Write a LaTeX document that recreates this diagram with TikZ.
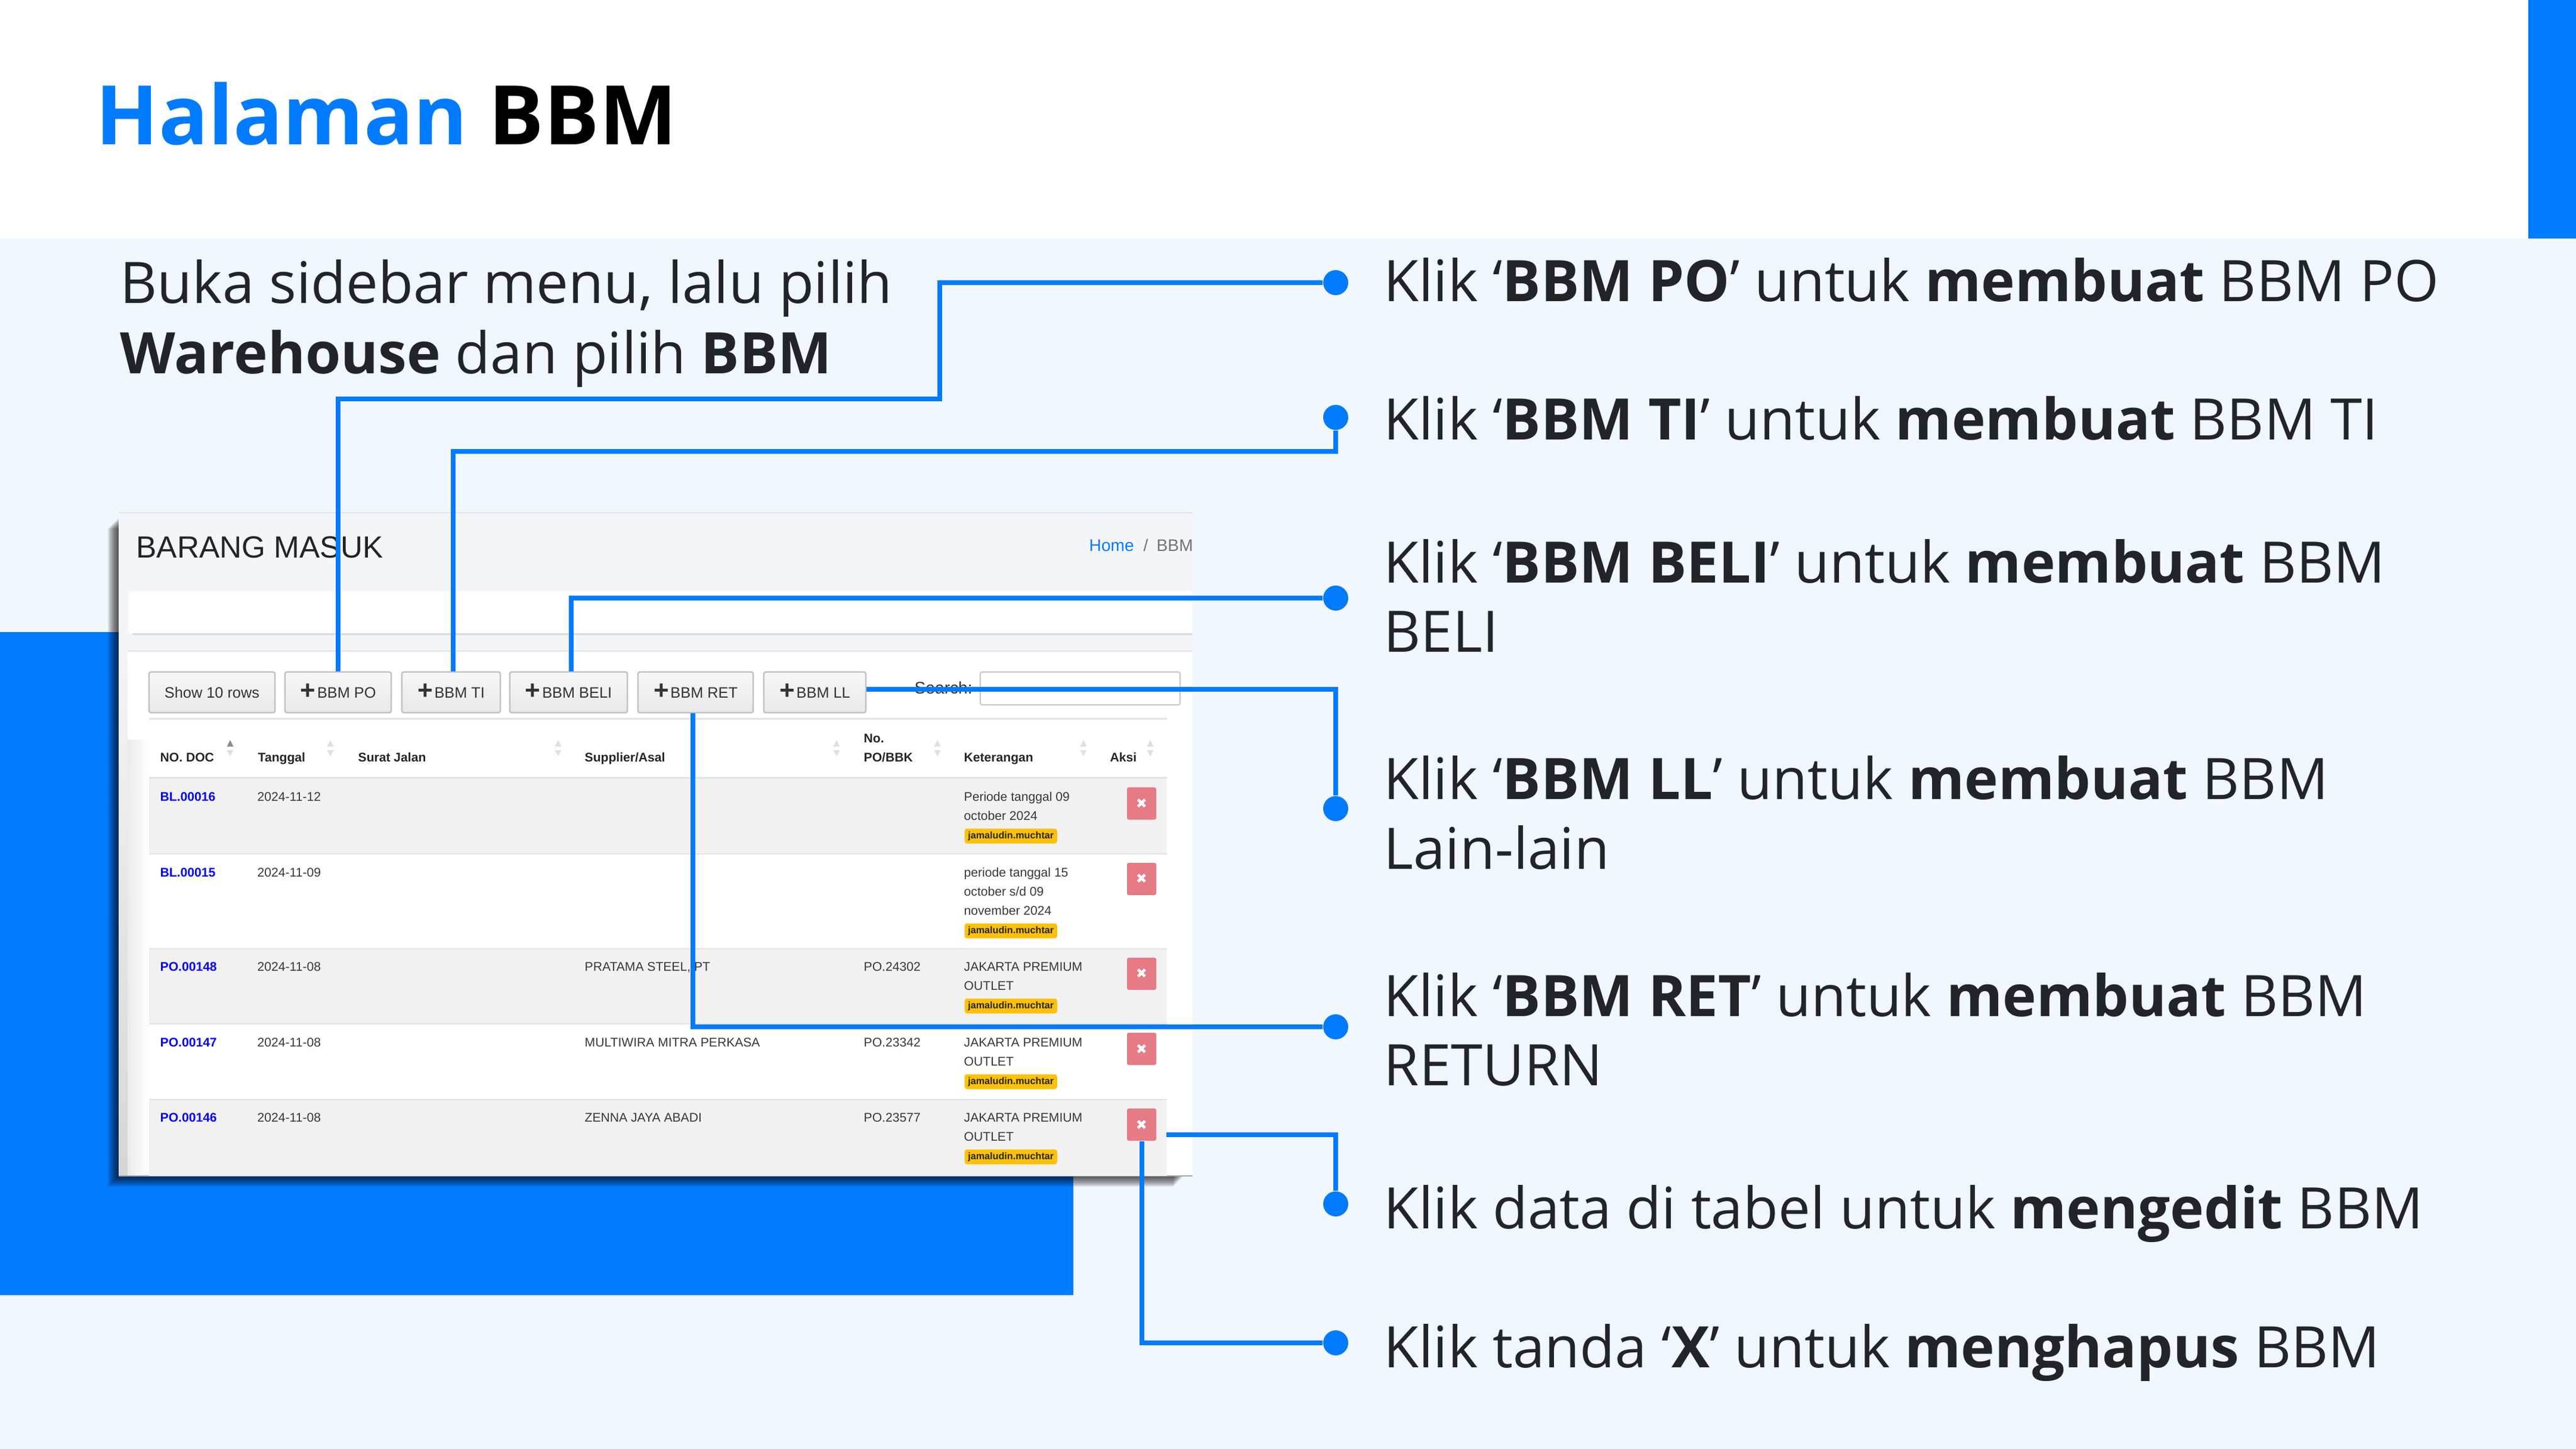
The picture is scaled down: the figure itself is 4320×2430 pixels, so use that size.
\documentclass[tikz,border=0pt]{standalone}
\usepackage{fontspec}
\setmainfont{Open Sans}
\newfontfamily\shotfont{Liberation Sans}
\newfontfamily\markfont{DejaVu Sans}
\usetikzlibrary{calc}
\definecolor{brandblue}{HTML}{007BFF}
\definecolor{pageblue}{HTML}{F1F7FE}
\definecolor{inktext}{HTML}{212529}
\definecolor{shotgray}{HTML}{F4F5F8}
\definecolor{rowgray}{HTML}{F1F1F1}
\definecolor{rulegray}{HTML}{E2E3E8}
\definecolor{delred}{HTML}{E67A85}
\definecolor{tagyellow}{HTML}{FFC107}
\def\sortarrows[#1](#2){\fill[#1] (#2-5.5,1252) -- (#2+5.5,1252) -- (#2,1241) -- cycle; \fill[lightarrow] (#2-5.5,1258) -- (#2+5.5,1258) -- (#2,1268) -- cycle;}
\newcommand{\addmark}{\raisebox{-0.7pt}{\fontsize{12.5}{12}\selectfont\bfseries +}\hspace{0.8pt}}
\tikzset{
	lightarrow/.style={color=black!12},
	link/.style={line width=0.8mm, color=brandblue},
	dotmark/.style={circle, fill=brandblue, inner sep=0, minimum size=0.42cm},
	lead/.style={anchor=west, inner sep=0, text=inktext, font=\fontsize{27.3}{33}\selectfont, text height=19.4pt, text depth=0pt},
	crumb/.style={anchor=west, inner sep=0, font=\shotfont\fontsize{8}{9}\selectfont, text height=5.8pt, text depth=0pt},
	cell/.style={anchor=west, inner sep=0, text=black!78, font=\shotfont\fontsize{6}{7}\selectfont, text height=4.3pt, text depth=0pt},
	headcell/.style={cell, text=black!85, font=\shotfont\bfseries\fontsize{6}{7}\selectfont},
	doccell/.style={cell, text=blue, font=\shotfont\bfseries\fontsize{6}{7}\selectfont},
	toolbtn/.style={draw=black!24, line width=0.25mm, rounded corners=0.03cm, top color=white!97!black, bottom color=black!9, inner sep=0, minimum height=0.68cm, text=black!80, font=\shotfont\fontsize{7.2}{8}\selectfont, text height=5.2pt, text depth=0pt},
	delbtn/.style={fill=delred, rounded corners=0.03cm, inner sep=0, minimum width=0.49cm, minimum height=0.54cm, text=white, font=\markfont\fontsize{6.5}{7}\selectfont},
	tagmark/.style={anchor=west, fill=tagyellow, rounded corners=0.04cm, inner sep=0, minimum width=1.55cm, minimum height=0.25cm, text=black!85, font=\shotfont\bfseries\fontsize{4.6}{5}\selectfont},
}
\begin{document}
\begin{tikzpicture}[x=0.01cm, y=-0.01cm]
			%%%%% START %%%%%
			\useasboundingbox (0, 0) rectangle (4320, 2430);
			\fill[white] (0, 0) rectangle (4320, 400);
			\fill[pageblue] (0, 400) rectangle (4320, 2430);
			\fill[brandblue] (4240, 0) rectangle (4320, 400);
			\fill[brandblue] (0, 1060) rectangle (1800, 2172);
			
			\node[anchor=west, inner sep=0, font=\bfseries\fontsize{39.2}{46}\selectfont, text height=28pt, text depth=0pt] (titleText) at (160, 193) {\textcolor{brandblue}{Halaman} BBM};
			\node[lead] (introTop) at (201, 474) {Buka sidebar menu, lalu pilih};
			\node[lead] (introBottom) at (201, 592) {\textbf{Warehouse} dan pilih \textbf{BBM}};
			
			%%%%% SCREENSHOT %%%%%
			\foreach \g in {0, 2, ..., 18}
				\fill[black, opacity=0.1] (199-\g, 868+\g) rectangle (1986-\g, 1972+\g);
			\fill[shotgray] (199, 860) rectangle (2000, 1972);
			\shade[top color=shotgray, bottom color=black!16] (199, 1092) rectangle (214, 1972);
			\draw[rulegray, line width=0.2mm] (199, 860) -- (2000, 860);
			\fill[white, rounded corners=0.06cm] (215, 991) rectangle (2000, 1063);
			\draw[black!14, line width=0.3mm] (222, 1063) -- (2000, 1063);
			\fill[white] (214, 1092) rectangle (2000, 1972);
			\draw[rulegray, line width=0.2mm] (214, 1092) -- (2000, 1092);
			\shade[left color=black!8, right color=white] (214, 1240) rectangle (250, 1972);
			\draw[black!35, line width=0.15mm] (199, 1972) -- (2000, 1972);
			
			\node[anchor=west, inner sep=0, text=inktext, font=\shotfont\fontsize{14.6}{18}\selectfont, text height=10.5pt, text depth=0pt] (shotTitle) at (228, 917) {BARANG MASUK};
			\node[crumb, text=brandblue] (crumbHome) at (1826, 914) {Home};
			\node[crumb, text=black!55] (crumbSlash) at (1917, 914) {/};
			\node[crumb, text=black!55] (crumbBBM) at (1939, 914) {BBM};
			
			\node[toolbtn, minimum width=2.11cm] (btnRows) at (355.5, 1161) {Show 10 rows};
			\node[toolbtn, minimum width=1.78cm] (btnPO) at (567, 1161) {\addmark BBM PO};
			\node[toolbtn, minimum width=1.65cm] (btnTI) at (756.5, 1161) {\addmark BBM TI};
			\node[toolbtn, minimum width=1.97cm] (btnBELI) at (953.5, 1161) {\addmark BBM BELI};
			\node[toolbtn, minimum width=1.93cm] (btnRET) at (1166.5, 1161) {\addmark BBM RET};
			\node[toolbtn, minimum width=1.71cm] (btnLL) at (1366.5, 1161) {\addmark BBM LL};
			\node[crumb, text=black!80] (searchText) at (1533, 1153) {Search:};
			\node[draw=black!22, line width=0.2mm, rounded corners=0.03cm, inner sep=0, minimum width=3.35cm, minimum height=0.55cm] (searchBox) at (1811.5, 1154.5) {};
			
			\draw[rulegray, line width=0.3mm] (250, 1205) -- (1957, 1205);
			\fill[rowgray] (250, 1304) rectangle (1957, 1432);
			\fill[rowgray] (250, 1591) rectangle (1957, 1717);
			\fill[rowgray] (250, 1844) rectangle (1957, 1972);
			\draw[rulegray, line width=0.3mm] (250, 1304) -- (1957, 1304);
			\draw[rulegray, line width=0.15mm] (250, 1432) -- (1957, 1432);
			\draw[rulegray, line width=0.15mm] (250, 1591) -- (1957, 1591);
			\draw[rulegray, line width=0.15mm] (250, 1717) -- (1957, 1717);
			\draw[rulegray, line width=0.15mm] (250, 1844) -- (1957, 1844);
			
			\node[headcell] (headDoc) at (268, 1270) {NO. DOC};
			\node[headcell] (headDate) at (432, 1270) {Tanggal};
			\node[headcell] (headRoad) at (600, 1270) {Surat Jalan};
			\node[headcell] (headSupplier) at (980, 1270) {Supplier/Asal};
			\node[headcell] (headNoA) at (1448, 1238) {No.};
			\node[headcell] (headNoB) at (1448, 1270) {PO/BBK};
			\node[headcell] (headNote) at (1616, 1270) {Keterangan};
			\node[headcell] (headAct) at (1861, 1270) {Aksi};
			\sortarrows[black!45](386)
			\sortarrows[lightarrow](554)
			\sortarrows[lightarrow](936)
			\sortarrows[lightarrow](1403)
			\sortarrows[lightarrow](1572)
			\sortarrows[lightarrow](1817)
			\sortarrows[lightarrow](1929)
			
			\node[doccell] (docA) at (268, 1336) {BL.00016};
			\node[cell] (dateA) at (431, 1336) {2024-11-12};
			\node[cell] (noteA) at (1616, 1336) {Periode tanggal 09};
			\node[cell] (noteAb) at (1616, 1368) {october 2024};
			\node[tagmark] (tagA) at (1617, 1402) {jamaludin.muchtar};
			\node[delbtn] (delA) at (1914.5, 1347.5) {✖};
			
			\node[doccell] (docB) at (268, 1463) {BL.00015};
			\node[cell] (dateB) at (431, 1463) {2024-11-09};
			\node[cell] (noteB) at (1616, 1463) {periode tanggal 15};
			\node[cell] (noteBb) at (1616, 1495) {october s/d 09};
			\node[cell] (noteBc) at (1616, 1527) {november 2024};
			\node[tagmark] (tagB) at (1617, 1561) {jamaludin.muchtar};
			\node[delbtn] (delB) at (1914.5, 1474) {✖};
			
			\node[doccell] (docC) at (268, 1621) {PO.00148};
			\node[cell] (dateC) at (431, 1621) {2024-11-08};
			\node[cell] (suppC) at (980, 1621) {PRATAMA STEEL, PT};
			\node[cell] (poC) at (1448, 1621) {PO.24302};
			\node[cell] (noteC) at (1616, 1621) {JAKARTA PREMIUM};
			\node[cell] (noteCb) at (1616, 1653) {OUTLET};
			\node[tagmark] (tagC) at (1617, 1687) {jamaludin.muchtar};
			\node[delbtn] (delC) at (1914.5, 1633) {✖};
			
			\node[doccell] (docD) at (268, 1748) {PO.00147};
			\node[cell] (dateD) at (431, 1748) {2024-11-08};
			\node[cell] (suppD) at (980, 1748) {MULTIWIRA MITRA PERKASA};
			\node[cell] (poD) at (1448, 1748) {PO.23342};
			\node[cell] (noteD) at (1616, 1748) {JAKARTA PREMIUM};
			\node[cell] (noteDb) at (1616, 1780) {OUTLET};
			\node[tagmark] (tagD) at (1617, 1814) {jamaludin.muchtar};
			\node[delbtn] (delD) at (1914.5, 1759) {✖};
			
			\node[doccell] (docE) at (268, 1874) {PO.00146};
			\node[cell] (dateE) at (431, 1874) {2024-11-08};
			\node[cell] (suppE) at (980, 1874) {ZENNA JAYA ABADI};
			\node[cell] (poE) at (1448, 1874) {PO.23577};
			\node[cell] (noteE) at (1616, 1874) {JAKARTA PREMIUM};
			\node[cell] (noteEb) at (1616, 1906) {OUTLET};
			\node[tagmark] (tagE) at (1617, 1940) {jamaludin.muchtar};
			\node[delbtn] (delE) at (1914.5, 1886) {✖};
			
			%%%%% RIGHT COLUMN %%%%%
			\node[dotmark] (dotPO) at (2240, 474) {};
			\node[dotmark] (dotTI) at (2240, 700) {};
			\node[dotmark] (dotBELI) at (2240, 1003) {};
			\node[dotmark] (dotLL) at (2240, 1356) {};
			\node[dotmark] (dotRET) at (2240, 1722) {};
			\node[dotmark] (dotEdit) at (2240, 2019) {};
			\node[dotmark] (dotDel) at (2240, 2252) {};
			
			\node[lead] (leadPO) at (2320, 471) {Klik ‘\textbf{BBM PO}’ untuk \textbf{membuat} BBM PO};
			\node[lead] (leadTI) at (2320, 703) {Klik ‘\textbf{BBM TI}’ untuk \textbf{membuat} BBM TI};
			\node[lead] (leadBELI) at (2320, 943) {Klik ‘\textbf{BBM BELI}’ untuk \textbf{membuat} BBM};
			\node[lead] (leadBELIb) at (2320, 1059) {BELI};
			\node[lead] (leadLL) at (2320, 1306) {Klik ‘\textbf{BBM LL}’ untuk \textbf{membuat} BBM};
			\node[lead] (leadLLb) at (2320, 1423) {Lain-lain};
			\node[lead] (leadRET) at (2320, 1670) {Klik ‘\textbf{BBM RET}’ untuk \textbf{membuat} BBM};
			\node[lead] (leadRETb) at (2320, 1786) {RETURN};
			\node[lead] (leadEdit) at (2320, 2026) {Klik data di tabel untuk \textbf{mengedit} BBM};
			\node[lead] (leadDel) at (2320, 2259) {Klik tanda ‘\textbf{X}’ untuk \textbf{menghapus} BBM};
			
			%%%%% CONNECTORS %%%%%
			\coordinate (bendPO) at (1576, 669);
			\coordinate (bendTI) at (2240, 757);
			\coordinate (startEdit) at (1956, 1903);
			\draw[link] (btnPO.north) |- (bendPO) |- (dotPO);
			\draw[link] ([xshift=0.035cm]btnTI.north) |- (bendTI) -- (dotTI);
			\draw[link] ([xshift=0.045cm]btnBELI.north) |- (dotBELI);
			\draw[link] ([yshift=0.05cm]btnLL.east) -| (dotLL);
			\draw[link] ([xshift=-0.05cm]btnRET.south) |- (dotRET);
			\draw[link] (startEdit) -| (dotEdit);
			\draw[link] (delE.south) |- (dotDel);
			%%%%% END %%%%%
		\end{tikzpicture}
\end{document}
